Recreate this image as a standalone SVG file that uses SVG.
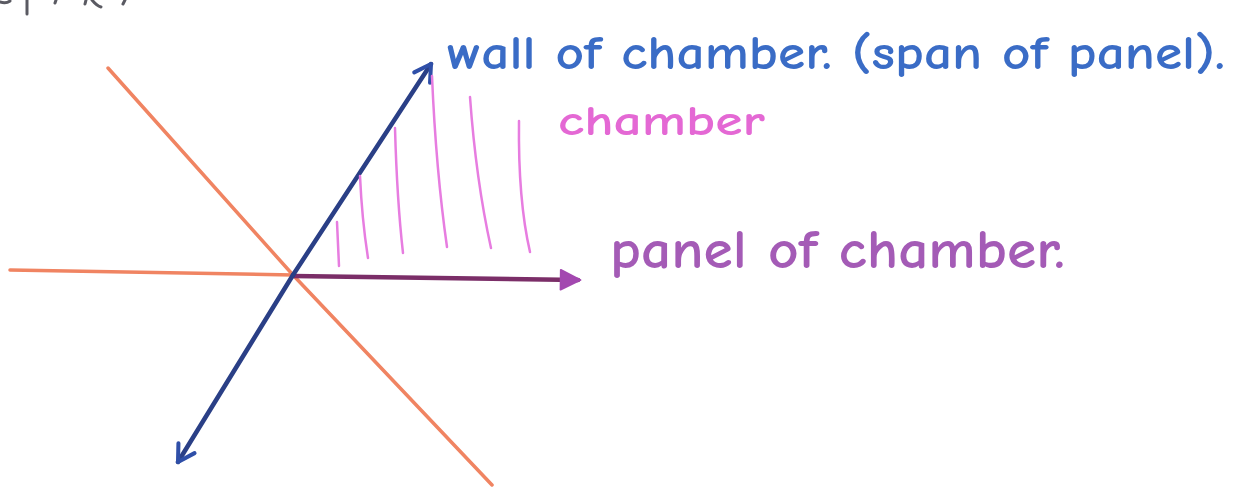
<svg xmlns="http://www.w3.org/2000/svg" width="1257" height="495" viewBox="0 0 1257 495">
<defs>
<style>
.lbl{font-family:"Comic Neue","Noto Sans","DejaVu Sans",sans-serif;font-weight:700}
.hatch{stroke:#e77de0;stroke-width:2.5;fill:none;stroke-linecap:round}
.orange{stroke:#f08462;stroke-width:3.5;fill:none;stroke-linecap:round}
.scrap{stroke:#5a5a62;stroke-width:3;fill:none;stroke-linecap:round}
</style>
<marker id="openBlue" viewBox="0 0 20 20" refX="14" refY="10" markerWidth="6" markerHeight="6" markerUnits="strokeWidth" orient="auto">
<path d="M2,3 L14,10 L2,17" fill="none" stroke="#2f4fa8" stroke-width="3" stroke-linecap="round" stroke-linejoin="round"/>
</marker>
<marker id="solidPurple" viewBox="0 0 20 20" refX="16" refY="10" markerWidth="5.5" markerHeight="5.5" markerUnits="strokeWidth" orient="auto">
<path d="M2,2 L18,10 L2,18 Z" fill="#a348b0" stroke="#a348b0" stroke-width="1.5" stroke-linejoin="round"/>
</marker>
</defs>
<rect width="1257" height="495" fill="#ffffff"/>
<g id="scraps">
<path class="scrap" d="M0,2 Q6,4 10,1"/>
<path class="scrap" d="M27,0 L27,14"/>
<path class="scrap" d="M56,0 L55,3"/>
<path class="scrap" d="M86,0 L85,4"/>
<path class="scrap" d="M92,0 Q97,6 101,7"/>
<path class="scrap" d="M125,0 L123,4"/>
</g>
<g id="connectors">
<path class="orange" d="M10,270 L293,275"/>
<path class="orange" d="M108,68 L293,275 L492,485"/>
<path id="panel-arrow" d="M293,276 L578,280" stroke="#7b2e68" stroke-width="4.5" fill="none" stroke-linecap="round" marker-end="url(#solidPurple)"/>
<path id="wall-arrow-up" d="M293,275 L431,64" stroke="#2a3f86" stroke-width="4.5" fill="none" stroke-linecap="round" marker-end="url(#openBlue)"/>
<path id="wall-arrow-down" d="M293,275 L178,462" stroke="#2a3f86" stroke-width="4.5" fill="none" stroke-linecap="round" marker-end="url(#openBlue)"/>
</g>
<g id="chamber-hatch">
<path class="hatch" d="M337,222 L339,266"/>
<path class="hatch" d="M360,176 Q362,220 368,258"/>
<path class="hatch" d="M395,128 Q397,200 403,253"/>
<path class="hatch" d="M432,76 Q436,170 447,247"/>
<path class="hatch" d="M470,97 Q476,180 491,248"/>
<path class="hatch" d="M519,121 Q518,200 530,252"/>
</g>
<g id="wall-label">
<text class="lbl" x="447" y="69" font-size="48" fill="#3a6cc6" textLength="778" lengthAdjust="spacingAndGlyphs">wall of chamber. (span of panel).</text>
</g>
<g id="chamber-label">
<text class="lbl" x="558" y="135" font-size="42" fill="#e468d4" textLength="207" lengthAdjust="spacingAndGlyphs">chamber</text>
</g>
<g id="panel-label">
<text class="lbl" x="610" y="268" font-size="54" fill="#a45bb6" textLength="455" lengthAdjust="spacingAndGlyphs">panel of chamber.</text>
</g>
</svg>
